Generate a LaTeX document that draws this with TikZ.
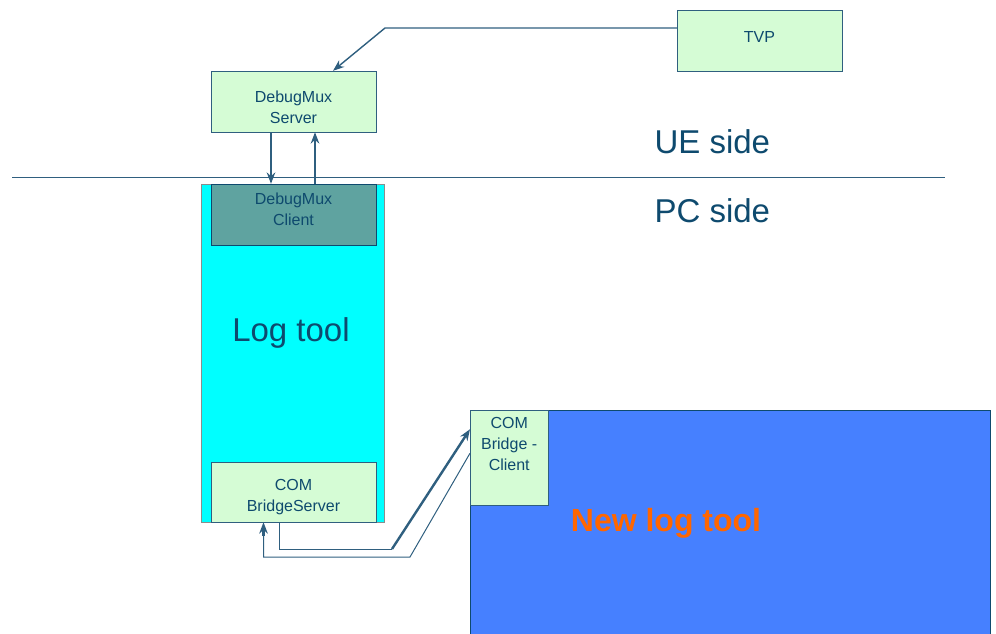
\documentclass[tikz,border=0pt]{standalone}
\usepackage{fontspec}
\setmainfont{Liberation Sans}
\usepackage{xcolor}
\usetikzlibrary{arrows.meta,positioning}
\definecolor{inkblue}{RGB}{14,74,110}
\definecolor{wireblue}{RGB}{47,95,127}
\definecolor{mintfill}{RGB}{213,252,213}
\definecolor{toolcyan}{RGB}{0,255,255}
\definecolor{tealfill}{RGB}{95,163,160}
\definecolor{newblue}{RGB}{70,128,255}
\definecolor{hotorange}{RGB}{255,102,0}
\tikzset{
  gbox/.style={rectangle, draw=wireblue, thin, fill=mintfill,
    minimum width=165pt, minimum height=61pt, inner sep=0pt},
  txt/.style={align=center, text=inkblue, font=\fontsize{16}{21}\selectfont},
  bigtxt/.style={text=inkblue, font=\fontsize{33}{38}\selectfont},
  link/.style={draw=wireblue, line width=1pt},
  tr/.style={-{Stealth[length=4mm,width=3mm]}, draw=wireblue, line width=2.4pt},
}

\begin{document}
\begin{tikzpicture}[x=1pt,y=-1pt]
  \useasboundingbox (0,0) rectangle (996,633);

  % UE side
  \node[gbox] (tvp) at (759.5,40.5) {};
  \node[txt, yshift=3.5pt] at (tvp) {TVP};
  \node[gbox] (dms) at (293.5,101.5) {};
  \node[txt, yshift=-5.5pt] at (dms) {DebugMux\\Server};
  \node[bigtxt, anchor=west] (ue) at (651,142) {UE side};
  \node[bigtxt, anchor=west] (pc) at (651,211) {PC side};
  \coordinate (lineL) at (12,177);
  \coordinate (lineR) at (945,177);
  \draw[wireblue, line width=0.8pt] (lineL) -- (lineR);

  % PC side: old log tool
  \node[rectangle, draw=black!45, thin, fill=toolcyan,
    minimum width=183pt, minimum height=338pt] (log) at (292.5,353) {};
  \node[gbox, fill=tealfill, draw=inkblue] (dmc) at (293.5,214.5) {};
  \node[txt, yshift=5.5pt] at (dmc) {DebugMux\\Client};
  \node[bigtxt] (logtxt) at (291,333) {Log tool};
  \node[gbox, minimum height=60pt] (bs) at (293.5,492) {};
  \node[txt, yshift=-5pt] at (bs) {COM\\BridgeServer};

  % new log tool
  \node[rectangle, draw=inkblue, fill=newblue, anchor=north west,
    minimum width=520pt, minimum height=240pt] (nlt) at (470,410) {};
  \node[gbox, anchor=north west, minimum width=78pt, minimum height=95pt] (cbc) at (470,410) {};
  \node[txt, below=4pt of cbc.north] {COM\\Bridge -\\Client};
  \node[font=\bfseries\fontsize{32}{36}\selectfont, text=hotorange] (nlttxt) at (666,523) {New log tool};

  % connections
  \coordinate (k1) at (385,28);
  \draw[tr, line width=1.4pt] (tvp.west |- k1) -- (k1) -- ([xshift=39.5pt]dms.north);
  \draw[tr] ([xshift=-22.5pt]dms.south) -- ([xshift=-22.5pt]dmc.north);
  \draw[tr] ([xshift=21.5pt]dmc.north) -- ([xshift=21.5pt]dms.south);
  \coordinate (b1) at (392,549);
  \coordinate (b2) at (410,557);
  \draw[link] ([xshift=-14.5pt]bs.south) |- (b1);
  \draw[tr] (b1) -- ([yshift=28.5pt]cbc.west);
  \draw[link] ([yshift=4.5pt]cbc.west) -- (b2) -| ([xshift=-30pt,yshift=-14pt]bs.south);
  \draw[tr] ([xshift=-30pt,yshift=-14pt]bs.south) -- ([xshift=-30pt]bs.south);
\end{tikzpicture}
\end{document}
